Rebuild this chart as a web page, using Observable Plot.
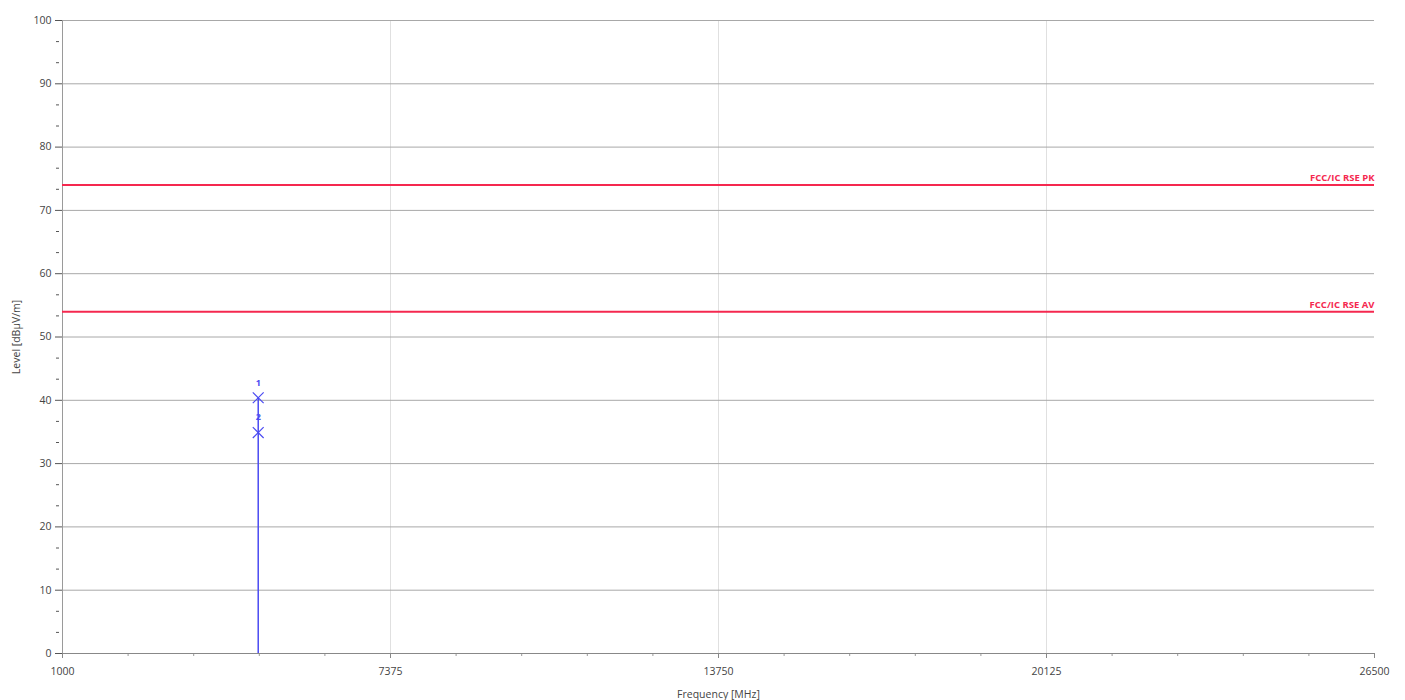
<!DOCTYPE html>
<html>
<head>
<meta charset="utf-8">
<script src="https://cdn.jsdelivr.net/npm/d3@7"></script>
<script src="https://cdn.jsdelivr.net/npm/@observablehq/plot@0.6"></script>
<style>
  html, body { margin: 0; padding: 0; background: #fff; }
  #chart svg { display: block; }
</style>
</head>
<body>
<div id="chart"></div>
<script>
// ---- data ----
const xTicks = [1000, 7375, 13750, 20125, 26500];
const yTicks = [0, 10, 20, 30, 40, 50, 60, 70, 80, 90, 100];
const xMinorTicks = d3.range(1000, 26500 + 1, 1275);
const yMinorTicks = d3.range(0, 100, 10).flatMap(d => [d + 10 / 3, d + 20 / 3]);
const limitNames = ["FCC/IC RSE PK", "FCC/IC RSE AV"];
const limitValues = [74, 54];
const markerIds = ["1", "2"];
const markerFreq = [4804, 4804];
const markerLevel = [40.4, 34.9];

const limits = limitNames.map((n, i) => ({name: n, value: limitValues[i]}));
const markers = markerIds.map((id, i) => ({id, f: markerFreq[i], v: markerLevel[i]}));

const font = "'Open Sans', 'DejaVu Sans', sans-serif";
const red = "#f5284f";
const blue = "#4b4bf2";

const chart = Plot.plot({
  width: 1405,
  height: 700,
  marginLeft: 62,
  marginRight: 31,
  marginTop: 20,
  marginBottom: 47,
  style: {fontFamily: font, fontSize: "10px", color: "#444", background: "#fff"},
  x: {domain: [1000, 26500]},
  y: {domain: [0, 100]},
  marks: [
    Plot.ruleX(xTicks.slice(1, -1), {stroke: "#e0e0e0", strokeWidth: 1}),
    Plot.ruleY(yTicks, {stroke: "#a8a8a8", strokeWidth: 1}),
    Plot.ruleX([1000], {stroke: "#9a9a9a"}),
    Plot.axisY({ticks: yMinorTicks, tickSize: 3, text: null, stroke: "#555", label: null, dx: -3}),
    Plot.axisY({ticks: yTicks, tickSize: 7, tickPadding: 4, stroke: "#555", fill: "#444",
      tickFormat: d => String(d),
      label: "Level [dBµV/m]", labelAnchor: "center", labelArrow: "none", labelOffset: 50, fontSize: 10.5}),
    Plot.axisX({ticks: xMinorTicks, tickSize: 3, text: null, stroke: "#999", label: null}),
    Plot.axisX({ticks: xTicks, tickSize: 5, tickPadding: 9, stroke: "#888", fill: "#444",
      tickFormat: d => String(d),
      label: "Frequency [MHz]", labelAnchor: "center", labelArrow: "none", labelOffset: 44, fontSize: 10.5}),
    Plot.ruleY(limits, {y: "value", stroke: red, strokeWidth: 2}),
    Plot.text(limits, {x: 26500, y: "value", text: "name", fill: red, textAnchor: "end",
      dy: -7, fontWeight: "bold", fontSize: 9.5}),
    Plot.ruleX([markers[0]], {x: "f", y1: 0, y2: "v", stroke: blue, strokeWidth: 1.5}),
    Plot.dot(markers, {x: "f", y: "v", symbol: "times", r: 5, stroke: blue, strokeWidth: 1.2}),
    Plot.text(markers, {x: "f", y: "v", text: "id", fill: blue, dy: -15, fontSize: 9, fontWeight: "bold"}),
    Plot.ruleY([0], {stroke: "#888"})
  ]
});
document.getElementById("chart").appendChild(chart);
</script>
</body>
</html>
